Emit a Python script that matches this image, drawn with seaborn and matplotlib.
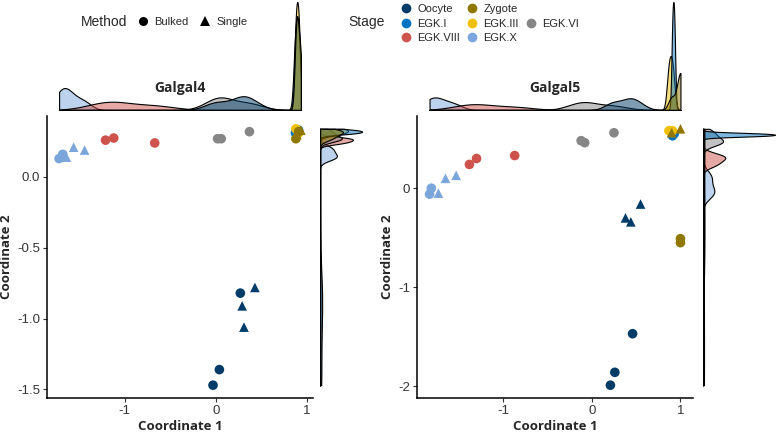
import matplotlib
matplotlib.use("Agg")
import matplotlib.pyplot as plt
from matplotlib.lines import Line2D
import seaborn as sns
import pandas as pd

# ---------------- data ----------------
STAGES = ["Oocyte", "Zygote", "EGK.I", "EGK.III", "EGK.VI", "EGK.VIII", "EGK.X"]
STAGE_COLORS = ["#003C67", "#8F7700", "#0073C2", "#EFC000", "#868686", "#CD534C", "#7AA6DC"]
METHODS = ["Bulked", "Single"]
METHOD_MARKERS = ["o", "^"]

# Galgal4
g4_stage = ["Oocyte"] * 6 + ["EGK.I"] * 2 + ["EGK.III"] * 2 + ["Zygote"] * 4 + \
           ["EGK.VI"] * 3 + ["EGK.VIII"] * 3 + ["EGK.X"] * 5
g4_method = ["Bulked", "Bulked", "Bulked", "Single", "Single", "Single",
             "Bulked", "Bulked", "Bulked", "Bulked",
             "Bulked", "Bulked", "Single", "Single",
             "Bulked", "Bulked", "Bulked",
             "Bulked", "Bulked", "Bulked",
             "Bulked", "Bulked", "Single", "Single", "Single"]
g4_x = [0.27, 0.04, -0.03, 0.43, 0.29, 0.31,
        0.875, 0.91, 0.88, 0.91,
        0.88, 0.91, 0.89, 0.935,
        0.02, 0.06, 0.37,
        -1.21, -1.12, -0.67,
        -1.72, -1.68, -1.64, -1.56, -1.44]
g4_y = [-0.82, -1.36, -1.47, -0.78, -0.91, -1.06,
        0.31, 0.33, 0.34, 0.31,
        0.27, 0.32, 0.30, 0.33,
        0.27, 0.27, 0.32,
        0.26, 0.275, 0.24,
        0.13, 0.16, 0.14, 0.21, 0.19]

# Galgal5
g5_stage = ["Oocyte"] * 6 + ["EGK.I"] * 2 + ["EGK.III"] * 2 + ["Zygote"] * 4 + \
           ["EGK.VI"] * 3 + ["EGK.VIII"] * 3 + ["EGK.X"] * 5
g5_method = ["Single", "Single", "Single", "Bulked", "Bulked", "Bulked",
             "Bulked", "Bulked", "Bulked", "Bulked",
             "Bulked", "Bulked", "Single", "Single",
             "Bulked", "Bulked", "Bulked",
             "Bulked", "Bulked", "Bulked",
             "Bulked", "Bulked", "Single", "Single", "Single"]
g5_x = [0.38, 0.44, 0.55, 0.46, 0.26, 0.21,
        0.91, 0.93, 0.87, 0.91,
        1.00, 1.00, 0.90, 1.00,
        -0.12, -0.08, 0.25,
        -1.38, -1.30, -0.87,
        -1.83, -1.81, -1.73, -1.65, -1.53]
g5_y = [-0.30, -0.34, -0.16, -1.47, -1.86, -1.99,
        0.53, 0.55, 0.58, 0.58,
        -0.51, -0.55, 0.56, 0.60,
        0.48, 0.46, 0.56,
        0.24, 0.30, 0.33,
        -0.06, 0.00, -0.05, 0.10, 0.13]

g4_yticks = [0.0, -0.5, -1.0, -1.5]
g4_yticklabels = ["0.0", "-0.5", "-1.0", "-1.5"]
g5_yticks = [0, -1, -2]
g5_yticklabels = ["0", "-1", "-2"]
xticks = [-1, 0, 1]
xticklabels = ["-1", "0", "1"]

# ---------------- style ----------------
sns.set_theme(style="white")
plt.rcParams['font.family'] = ['Liberation Sans', 'DejaVu Sans']

palette = dict(zip(STAGES, STAGE_COLORS))
markers = dict(zip(METHODS, METHOD_MARKERS))

W, H = 777, 432
fig = plt.figure(figsize=(W / 100, H / 100), dpi=100)


def rect(x0, y0, x1, y1):
    return [x0 / W, 1 - y1 / H, (x1 - x0) / W, (y1 - y0) / H]


def panel(df, main_px, top_px, right_px, title, yticks, yticklabels):
    ax = fig.add_axes(rect(*main_px))
    axt = fig.add_axes(rect(*top_px))
    axr = fig.add_axes(rect(*right_px))

    sns.scatterplot(data=df, x="x", y="y", hue="Stage", style="Method",
                    hue_order=STAGES, palette=palette, markers=markers,
                    style_order=METHODS, s=48, linewidth=0, legend=False,
                    ax=ax)
    xlo, xhi = df["x"].min(), df["x"].max()
    ylo, yhi = df["y"].min(), df["y"].max()
    xp, yp = 0.05 * (xhi - xlo), 0.05 * (yhi - ylo)
    ax.set_xlim(xlo - xp, xhi + xp)
    ax.set_ylim(ylo - yp, yhi + yp)
    ax.set_xticks(xticks)
    ax.set_xticklabels(xticklabels)
    ax.set_yticks(yticks)
    ax.set_yticklabels(yticklabels)
    for s in ["top", "right"]:
        ax.spines[s].set_visible(False)
    for s in ["left", "bottom"]:
        ax.spines[s].set_color("black")
        ax.spines[s].set_linewidth(1.1)
    ax.tick_params(axis="both", which="both", length=3, width=0.8,
                   color="#333333", labelcolor="#333333", labelsize=9.5,
                   pad=2, left=True, bottom=True)
    ax.set_xlabel("Coordinate 1", fontsize=9.5, fontweight="bold",
                  family=["Open Sans", "DejaVu Sans"], labelpad=2)
    ax.set_ylabel("Coordinate 2", fontsize=9.5, fontweight="bold",
                  family=["Open Sans", "DejaVu Sans"], labelpad=3)
    ax.text(0.5, 1.10, title, transform=ax.transAxes, ha="center",
            va="center", fontsize=10, fontweight="bold",
            family=["Open Sans", "DejaVu Sans"])

    kde_kws = dict(hue="Stage", hue_order=STAGES, palette=palette,
                   fill=True, common_norm=False, alpha=0.5,
                   edgecolor="black", linewidth=0.8, legend=False,
                   cut=1000, gridsize=3000)
    sns.kdeplot(data=df, x="x", clip=(xlo, xhi), ax=axt, **kde_kws)
    axt.set_xlim(ax.get_xlim())
    axt.set_ylim(0, axt.get_ylim()[1] / 1.05)
    axt.axis("off")

    sns.kdeplot(data=df, y="y", clip=(ylo, yhi), ax=axr, **kde_kws)
    axr.set_ylim(ax.get_ylim())
    axr.set_xlim(0, axr.get_xlim()[1] / 1.05)
    axr.axis("off")
    return ax


df4 = pd.DataFrame({"Stage": g4_stage, "Method": g4_method, "x": g4_x, "y": g4_y})
df5 = pd.DataFrame({"Stage": g5_stage, "Method": g5_method, "x": g5_x, "y": g5_y})

panel(df4, (47, 116, 313, 398), (47, 2, 313, 110), (320, 116, 362, 398),
      "Galgal4", g4_yticks, g4_yticklabels)
panel(df5, (417, 116, 693, 398), (417, 2, 693, 110), (703, 116, 775, 398),
      "Galgal5", g5_yticks, g5_yticklabels)

# ---------------- legends ----------------
fig.text(104 / W, 1 - 22 / H, "Method", ha="center", va="center", fontsize=10)
m_handles = [Line2D([], [], linestyle="none", marker=mk, color="black",
                    markersize=6.5, markeredgewidth=0)
             for mk in METHOD_MARKERS]
fig.legend(m_handles, METHODS, loc="center left",
           bbox_to_anchor=(137.5 / W, 1 - 22 / H), ncol=2, frameon=False,
           fontsize=8, handlelength=1.0, handletextpad=0.5,
           columnspacing=1.0, borderpad=0, borderaxespad=0)

fig.text(367 / W, 1 - 22 / H, "Stage", ha="center", va="center", fontsize=10)
stage_order = ["Oocyte", "EGK.I", "EGK.VIII", "Zygote", "EGK.III", "EGK.X",
               None, "EGK.VI", None]
s_handles, s_labels = [], []
for st in stage_order:
    if st is None:
        s_handles.append(Line2D([], [], linestyle="none", marker=None))
        s_labels.append("")
    else:
        s_handles.append(Line2D([], [], linestyle="none", marker="o",
                                color=palette[st], markersize=7,
                                markeredgewidth=0))
        s_labels.append(st)
fig.legend(s_handles, s_labels, loc="center left",
           bbox_to_anchor=(400.5 / W, 1 - 23.5 / H), ncol=3, frameon=False,
           fontsize=8, handlelength=1.0, handletextpad=0.5,
           columnspacing=0.6, labelspacing=0.42, borderpad=0, borderaxespad=0)

fig.savefig("out.png", dpi=100)
